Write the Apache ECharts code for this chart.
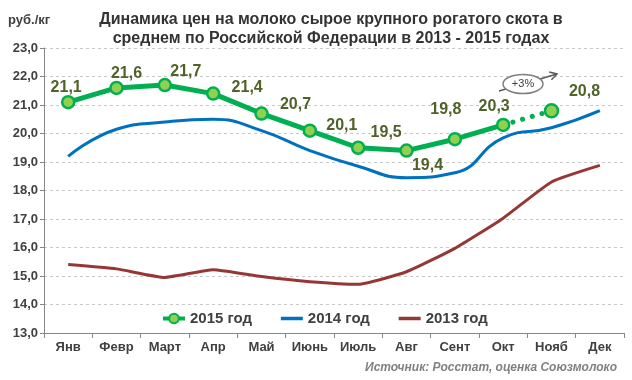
<!DOCTYPE html>
<html><head><meta charset="utf-8">
<script src="https://cdn.jsdelivr.net/npm/echarts@6/dist/echarts.min.js"></script>
<style>html,body{margin:0;padding:0;background:#fff}#c{width:632px;height:380px}</style>
</head><body><div id="c"></div>
<script>
const months = ['Янв','Февр','Март','Апр','Май','Июнь','Июль','Авг','Сент','Окт','Нояб','Дек'];
const yTicks = [13,14,15,16,17,18,19,20,21,22,23];
const s2015 = [21.1,21.6,21.7,21.4,20.7,20.1,19.5,19.4,19.8,20.3,null,null];
const s2015est = [null,null,null,null,null,null,null,null,null,20.3,20.8,null];
const s2014 = [19.2,20.15,20.4,20.5,20.1,19.4,18.85,18.45,18.62,19.85,20.2,20.8];
const s2013 = [15.4,15.25,14.95,15.22,14.98,14.8,14.71,15.15,15.97,17.03,18.3,18.88];
const names = ['2015 год','2014 год','2013 год'];

// label offsets (style only)
const off2015 = [[-2,-15],[10,-14],[21,-13],[34,-6],[34,-9],[32,-5],[28,-15],[21,15],[-9,-30],[-9,-18]];
const offEst = [[33,-19]];

const fmt = v => v.toFixed(1).replace('.', ',');
const lblStyle = {show:true, position:'inside', color:'#4f6228', fontFamily:'Liberation Sans', fontWeight:'bold', fontSize:16,
  formatter: p => fmt(p.value)};

const d2015 = s2015.map((v,i) => v == null ? null : {value:v, label:Object.assign({}, lblStyle, {offset: off2015[i]})});
const dEst = s2015est.map((v,i) => {
  if (v == null) return null;
  if (i === 10) return {value:v, symbolSize:13, label:Object.assign({}, lblStyle, {offset: offEst[0]})};
  return {value:v, symbol:'none', label:{show:false}};
});

const chart = echarts.init(document.getElementById('c'));
chart.setOption({
  animation:false,
  textStyle:{fontFamily:'Liberation Sans'},
  title:{text:'Динамика цен на молоко сырое крупного рогатого скота в\nсреднем по Российской Федерации в 2013 - 2015 годах',
    left:326, top:5, textAlign:'center',
    textStyle:{fontFamily:'Liberation Sans', fontWeight:'bold', fontSize:16, color:'#333333', lineHeight:19}},
  legend:{data:[{name:names[0], lineStyle:{width:4}},
                {name:names[1], itemStyle:{opacity:0}, lineStyle:{width:3.5}},
                {name:names[2], itemStyle:{opacity:0}, lineStyle:{width:3.5}}],
    left:156, top:306, itemWidth:22, itemHeight:12, itemGap:27,
    textStyle:{fontFamily:'Liberation Sans', fontWeight:'bold', fontSize:15, color:'#404040'}},
  grid:{left:44, right:8, top:48, bottom:47},
  xAxis:{type:'category', data:months, boundaryGap:true,
    axisLine:{lineStyle:{color:'#868686', width:1}},
    axisTick:{show:true, length:5, lineStyle:{color:'#868686'}},
    axisLabel:{margin:8, fontFamily:'Liberation Sans', fontWeight:'bold', fontSize:13, color:'#404040'}},
  yAxis:{type:'value', min:yTicks[0], max:yTicks[yTicks.length-1], interval:1,
    axisLine:{show:true, lineStyle:{color:'#868686', width:1}},
    axisTick:{show:true, length:4, lineStyle:{color:'#868686'}},
    axisLabel:{margin:6, fontFamily:'Liberation Sans', fontWeight:'bold', fontSize:13, color:'#404040', formatter:v=>fmt(v)},
    splitLine:{lineStyle:{color:'#c8c8c8', type:[3,3], width:1}}},
  series:[
    {name:names[2], type:'line', data:s2013, smooth:0.15, symbol:'none', z:2,
      lineStyle:{color:'#953735', width:3}, itemStyle:{color:'#953735'}},
    {name:names[1], type:'line', data:s2014, smooth:0.5, symbol:'none', z:3,
      lineStyle:{color:'#0070c0', width:3}, itemStyle:{color:'#0070c0'}},
    {name:'2015est', type:'line', data:dEst, symbol:'circle', symbolSize:12, z:4,
      lineStyle:{color:'#00b050', width:5, type:[0.1,10], cap:'round'},
      itemStyle:{color:'#92d050', borderColor:'#00b050', borderWidth:2.5}},
    {name:names[0], type:'line', data:d2015, symbol:'circle', symbolSize:12, z:5,
      lineStyle:{color:'#00b050', width:5},
      itemStyle:{color:'#92d050', borderColor:'#00b050', borderWidth:2.5}}
  ],
  graphic:[
    {type:'text', left:8, top:14, style:{text:'руб./кг', font:'bold 13px "Liberation Sans"', fill:'#404040'}},
    {type:'text', right:15, top:362, style:{text:'Источник: Росстат, оценка Союзмолоко', font:'italic bold 12px "Liberation Sans"', fill:'#808080'}},
    {type:'polyline', shape:{points:[[499,91],[557,74]]}, style:{stroke:'#595959', lineWidth:1.5, fill:null}, z:10},
    {type:'polyline', shape:{points:[[551.4,79.8],[557,74],[549.2,72.1]]}, style:{stroke:'#595959', lineWidth:1.5, fill:null}, z:10},
    {type:'ellipse', shape:{cx:523, cy:84, rx:20, ry:9.5}, style:{fill:'#fff', stroke:'#7f7f7f', lineWidth:1.5}, z:11},
    {type:'text', x:523, y:84, style:{text:'+3%', font:'11px "Liberation Sans"', fill:'#404040', align:'center', verticalAlign:'middle'}, z:12}
  ]
});
</script></body></html>
